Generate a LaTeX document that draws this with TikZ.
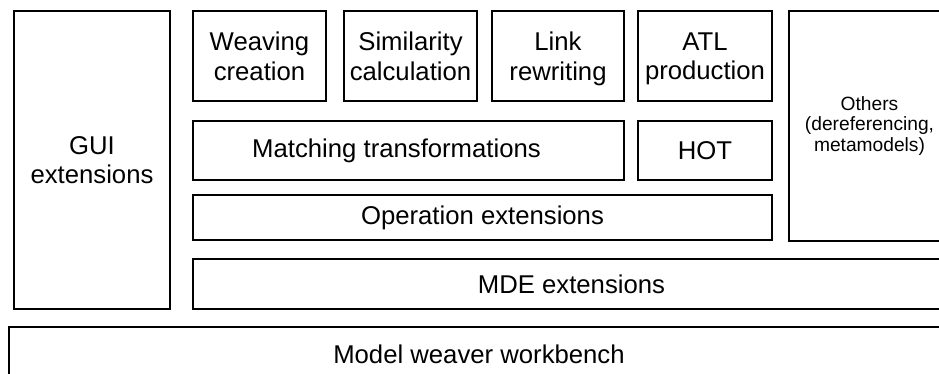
\documentclass[tikz,border=0pt]{standalone}
\usepackage{fontspec}
\setmainfont{Liberation Sans}
\begin{document}
\begin{tikzpicture}[x=1pt,y=-1pt,
  box/.style={draw=black, line width=1.7pt, fill=white, inner sep=0pt, outer sep=0pt,
    align=center, font=\fontsize{25.7}{29.5}\selectfont},
  twoline/.style={box, text depth=0pt},
  smallbox/.style={box, font=\fontsize{19.2}{20.5}\selectfont},
  lbl/.style={inner sep=0pt, font=\fontsize{25.7}{29.5}\selectfont}]
\useasboundingbox (0,0) rectangle (939,374);
\clip (0,0) rectangle (939,374);
\fill[white] (0,0) rectangle (939,374);
\newcommand{\bx}[6]{\node[#1, minimum width=#4-#2, minimum height=#5-#3] (#6) at ({(#2+#4)/2},{(#3+#5)/2})}
\bx{box}{14}{11}{170}{309}{gui} {GUI\\extensions};
\bx{twoline}{193}{11}{326}{101}{weav} {Weaving\\creation};
\bx{twoline}{344}{11}{477}{101}{sim} {Similarity\\calculation};
\bx{twoline}{492}{11}{624}{101}{link} {Link\\rewriting};
\bx{twoline}{638}{11}{772}{101}{atl} {ATL\\production};
\bx{smallbox}{789}{11}{950}{241}{oth} {Others\\(dereferencing,\\metamodels)};
\bx{box}{193}{121}{624}{180}{match} {};
\node[lbl] (matchtxt) at ([xshift=-12pt]match.center) {Matching transformations};
\bx{box}{638}{121}{772}{180}{hot} {HOT};
\bx{box}{193}{195}{772}{240}{oper} {Operation extensions};
\bx{box}{193}{259}{950}{309}{mde} {MDE extensions};
\bx{box}{9}{327}{949}{381}{mww} {Model weaver workbench};
\end{tikzpicture}
\end{document}
